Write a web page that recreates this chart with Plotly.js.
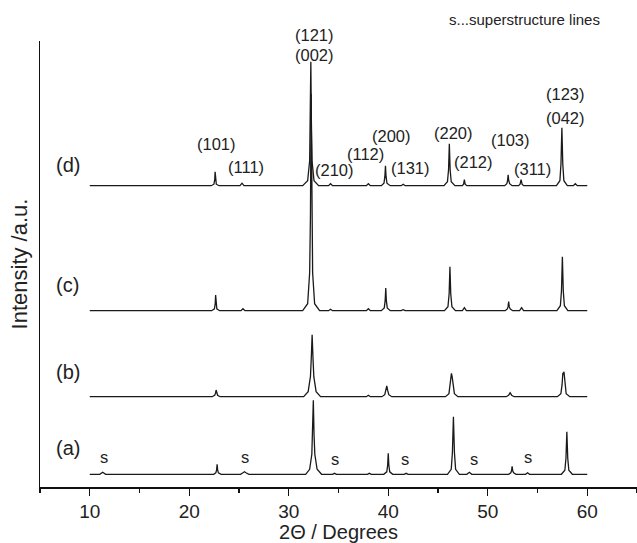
<!DOCTYPE html>
<html>
<head>
<meta charset="utf-8">
<script src="https://cdn.plot.ly/plotly-3.0.1.min.js"></script>
<style>html,body{margin:0;padding:0;background:#fff;}#chart{width:637px;height:543px;}</style>
</head>
<body>
<div id="chart"></div>
<script>
// 2θ (degrees) and intensity (a.u., relative to each pattern's own baseline)
const aX = [10,11.0,11.3,11.6,22.45,22.67,22.75,22.8,22.85,22.93,23.2,25.15,25.4,25.55,25.7,26.0,31.7,32.1,32.32,32.4,32.47,32.54,32.62,32.85,33.3,34.4,34.6,34.8,37.9,38.1,38.3,39.55,39.85,39.94,40.0,40.06,40.15,40.45,41.6,41.8,42.0,45.95,46.33,46.45,46.55,46.65,46.77,47.15,47.9,48.15,48.4,52.1,52.32,52.39,52.45,52.51,52.6,52.85,53.8,54.0,54.2,57.4,57.75,57.86,57.95,58.04,58.15,58.5,60];
const aY = [0,0,2,0,0,1.5,4.5,10,4.5,1.5,0,0,1.5,2.5,1.5,0,0,5,20,40,74,40,20,5,0,0,1,0,0,1,0,0,2.5,9,21,9,2.5,0,0,1,0,0,5,22,57.6,22,5,0,0,2,0,0,1.5,3.5,8,3.5,1.5,0,0,1.5,0,0,4,16,42.6,16,4,0,0];

const bX = [10,22.3,22.55,22.64,22.7,22.76,22.85,23.1,31.5,31.95,32.18,32.27,32.35,32.43,32.52,32.75,33.2,37.8,38.0,38.2,39.35,39.65,39.75,39.85,39.95,40.05,40.35,45.75,46.1,46.22,46.3,46.35,46.42,46.52,46.65,47.0,51.85,52.1,52.25,52.4,52.65,57.0,57.35,57.47,57.55,57.6,57.66,57.75,57.88,58.25,60];
const bY = [0,0,1.5,3.5,6.7,3.5,1.5,0,0,5,20,40,62,40,20,5,0,0,1.5,0,0,2,6,10.7,6,2,0,0,3,12,22,23.4,20,10,3,0,0,1.5,4,1.5,0,0,3,12,24,22,25,12,3,0,0];

const cX = [10,22.25,22.53,22.61,22.65,22.69,22.77,23.05,25.2,25.4,25.6,31.4,31.9,32.1,32.18,32.25,32.32,32.4,32.6,33.1,34.0,34.2,34.4,37.8,38.0,38.2,39.3,39.6,39.69,39.75,39.81,39.9,40.2,41.3,41.5,41.7,45.65,46.0,46.12,46.2,46.28,46.4,46.75,47.45,47.65,47.85,51.75,51.97,52.04,52.1,52.16,52.25,52.5,53.2,53.4,53.6,56.95,57.3,57.41,57.5,57.59,57.7,58.05,60];
const cY = [0,0,1.8,7,15.7,7,1.8,0,0,2,0,0,7,38,95,217,95,38,7,0,0,1.5,0,0,2,0,0,2.8,10,22.7,10,2.8,0,0,1,0,0,4,17,44,17,4,0,0,3,0,0,1.8,4,9,4,1.8,0,0,3,0,0,5,20,54,20,5,0,0];

const dX = [10,22.2,22.48,22.56,22.6,22.64,22.72,23.0,25.1,25.3,25.5,31.4,31.9,32.1,32.16,32.22,32.28,32.34,32.54,33.0,34.0,34.2,34.4,37.8,38.0,38.2,39.3,39.57,39.66,39.72,39.78,39.87,40.2,41.3,41.5,41.7,45.6,45.95,46.06,46.14,46.22,46.33,46.7,47.45,47.57,47.65,47.73,47.9,51.7,51.92,51.99,52.05,52.11,52.2,52.45,53.1,53.25,53.35,53.45,53.6,56.9,57.25,57.36,57.45,57.54,57.65,58.0,58.6,58.8,59.0,60];
const dY = [0,0,1.5,6,14,6,1.5,0,0,2.5,0,0,5,25,56,124,56,25,5,0,0,2,0,0,2,0,0,2.5,9,20,9,2.5,0,0,1.5,0,0,4,16,42,16,4,0,0,1.5,6,1.5,0,0,2,5,11,5,2,0,0,1.5,6,1.5,0,0,5,22,58,22,5,0,0,2,0,0];

const patternNames = ["(a)", "(b)", "(c)", "(d)"];
const stackOffset = [12.7, 90.3, 176.3, 301.3];

const peakLabels = ["(121)", "(002)", "(101)", "(111)", "(210)", "(112)", "(200)", "(131)", "(220)", "(212)", "(103)", "(311)", "(123)", "(042)"];
const superLabel = "s";
const noteText = "s...superstructure lines";

// ---- drawing ----
const series = [[aX, aY], [bX, bY], [cX, cY], [dX, dY]];
const lineColor = "#1a1a1a";
const traces = series.map((s, i) => ({
  type: "scatter", mode: "lines",
  x: s[0], y: s[1].map(v => v + stackOffset[i]),
  line: {color: lineColor, width: 1.3},
  hoverinfo: "skip", showlegend: false
}));

const FONT = "Liberation Sans, Arial, Helvetica, sans-serif";
const YMAX = 446;
const ann = [];
function txt(text, x, y, size) {
  // y given in axis units; converted to paper fraction so labels above the frame still show
  ann.push({text: text, x: x, y: y / YMAX, xref: "x", yref: "paper", showarrow: false,
    font: {family: FONT, size: size, color: "#222"}, xanchor: "center", yanchor: "middle"});
}
// pattern labels
const labY = [39, 115, 202, 322];
patternNames.forEach((t, i) => txt(t, 7.8, labY[i], 20));
// hkl labels
const hklPos = [[32.54,452],[32.54,432],[22.69,343],[25.70,320],[34.55,317],[37.76,333],[40.28,351],[42.19,319],[46.51,354],[48.52,325],[52.24,347],[54.45,318],[57.86,393],[57.86,369]];
peakLabels.forEach((t, i) => txt(t, hklPos[i][0], hklPos[i][1], 16.5));
// superstructure marks on (a)
[[11.4,30],[25.6,30],[34.6,28],[41.7,28],[48.6,28],[54.0,30]].forEach(p => txt(superLabel, p[0], p[1], 16.5));
txt(noteText, 53.74, 468, 15);

const layout = {
  width: 637, height: 543,
  margin: {l: 40, r: 0, t: 41, b: 56, pad: 0},
  paper_bgcolor: "#fff", plot_bgcolor: "#fff",
  font: {family: FONT, color: "#222"},
  xaxis: {
    range: [5, 65], showgrid: false, zeroline: false,
    showline: true, linecolor: "#111", linewidth: 1.5,
    ticks: "outside", ticklen: 7, tickwidth: 1.3, tickcolor: "#111",
    tickvals: [10, 20, 30, 40, 50, 60],
    minor: {tickvals: [5, 15, 25, 35, 45, 55, 65], ticks: "outside", ticklen: 4, tickwidth: 1.3, tickcolor: "#111"},
    tickfont: {family: FONT, size: 19, color: "#222"},
    title: {text: "2Θ / Degrees", font: {family: FONT, size: 20, color: "#222"}, standoff: 4},
    fixedrange: true
  },
  yaxis: {
    range: [0, YMAX], showgrid: false, zeroline: false,
    showline: true, linecolor: "#111", linewidth: 1.5,
    showticklabels: false, ticks: "",
    title: {text: "Intensity /a.u.", font: {family: FONT, size: 22, color: "#222"}, standoff: 5},
    fixedrange: true
  },
  annotations: ann,
  showlegend: false
};

Plotly.newPlot("chart", traces, layout, {displayModeBar: false, staticPlot: true});
</script>
</body>
</html>
